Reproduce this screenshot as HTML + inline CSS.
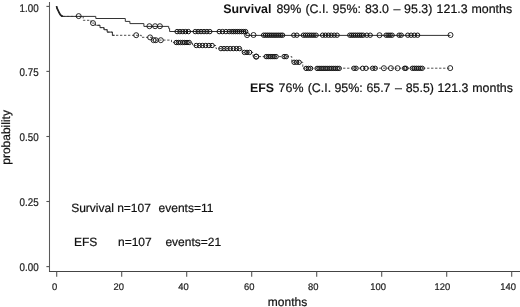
<!DOCTYPE html>
<html><head><meta charset="utf-8"><style>
html,body{margin:0;padding:0;background:#fff;}
svg{display:block;will-change:transform;text-rendering:geometricPrecision;font-family:"Liberation Sans",sans-serif;}
</style></head><body>
<svg width="520" height="307" viewBox="0 0 520 307">
<rect width="520" height="307" fill="#fff"/>
<g stroke="#555" stroke-width="1.1" fill="none">
<line x1="49.5" y1="1.9" x2="49.5" y2="272" stroke="#5a5a5a" stroke-width="1.05"/>
<line x1="49" y1="271.5" x2="520" y2="271.5" stroke="#444" stroke-width="1.05"/>
<line x1="46.4" y1="266.6" x2="49.6" y2="266.6"/><line x1="46.4" y1="201.5" x2="49.6" y2="201.5"/><line x1="46.4" y1="136.5" x2="49.6" y2="136.5"/><line x1="46.4" y1="71.4" x2="49.6" y2="71.4"/><line x1="46.4" y1="6.4" x2="49.6" y2="6.4"/>
<line x1="56.7" y1="271.5" x2="56.7" y2="276.8"/><line x1="121.7" y1="271.5" x2="121.7" y2="276.8"/><line x1="186.7" y1="271.5" x2="186.7" y2="276.8"/><line x1="251.7" y1="271.5" x2="251.7" y2="276.8"/><line x1="316.7" y1="271.5" x2="316.7" y2="276.8"/><line x1="381.7" y1="271.5" x2="381.7" y2="276.8"/><line x1="446.7" y1="271.5" x2="446.7" y2="276.8"/><line x1="511.7" y1="271.5" x2="511.7" y2="276.8"/>
</g>
<g fill="#222" stroke="#222" stroke-width="0.2" font-size="9.8" text-anchor="end"><text transform="translate(38.6,271.00) scale(1,1.15)">0.00</text><text transform="translate(38.6,205.70) scale(1,1.15)">0.25</text><text transform="translate(38.6,140.85) scale(1,1.15)">0.50</text><text transform="translate(38.6,76.15) scale(1,1.15)">0.75</text><text transform="translate(38.6,11.80) scale(1,1.15)">1.00</text></g>
<g fill="#222" stroke="#222" stroke-width="0.2" font-size="9.4"><text transform="translate(52.1,289.9) scale(1,1.03)">0</text><text transform="translate(113.5,289.9) scale(1,1.03)">20</text><text transform="translate(178.2,289.9) scale(1,1.03)">40</text><text transform="translate(244.1,289.9) scale(1,1.03)">60</text><text transform="translate(308.0,289.9) scale(1,1.03)">80</text><text transform="translate(370.2,289.9) scale(1,1.03)">100</text><text transform="translate(434.6,289.9) scale(1,1.03)">120</text><text transform="translate(500.3,289.9) scale(1,1.03)">140</text></g>
<text x="287.5" y="306" font-size="12" fill="#111" stroke="#111" stroke-width="0.2" text-anchor="middle">months</text>
<text transform="translate(10,137.4) rotate(-90)" font-size="12" fill="#111" stroke="#111" stroke-width="0.2" text-anchor="middle">probability</text>
<path d="M62.9,16.4 H83.2 V20.3 H91 V23.1 H95.5 V25.3 H100 V27.6 H104 V29.7 H107.2 V32.1 H112.4 V35.3 H141.3 V37.3 H151.5 V40.1 H171.5 V42.4 H192.5 V45.5 H216 V48.6 H242 V52.4 H253 V56.6 H291.8 V62.3 H302.8 V68.2 H450" fill="none" stroke="#444" stroke-width="0.95" stroke-dasharray="2.3,1.7"/>
<path d="M96.5,25.3 H100 V27.6 H104 V29.7 H107.2 V32.1 H112.4 V35.3 H114.6" fill="none" stroke="#333" stroke-width="1"/>
<path d="M56.5,6.1 L57.1,8.4 L58.3,10.8 L59.2,12.8 L60.3,14.6 L61.8,16.2 L62.9,16.4 H95.8 V18.5 H125.3 V21.4 H129.9 V23.6 H143.9 V26.4 H168.7 V28.4 H169.6 V31.5 H246 V35.4 H450.5" fill="none" stroke="#333" stroke-width="1"/>
<path d="M56.5,6.1 L57.1,8.4 L58.3,10.8 L59.2,12.8 L60.3,14.6 L61.8,16.1 L63,16.2" fill="none" stroke="#222" stroke-width="1.7"/>
<g fill="none" stroke="#111" stroke-width="0.9">
<circle cx="78.7" cy="16.1" r="2.5"/>
<circle cx="149.4" cy="26.2" r="2.5"/>
<circle cx="155.1" cy="26.2" r="2.5"/>
<circle cx="159.9" cy="26.2" r="2.5"/>
<circle cx="247.1" cy="35.1" r="2.5"/>
<circle cx="253.5" cy="35.0" r="2.5"/>
<circle cx="379.5" cy="35.2" r="2.5"/>
<circle cx="450.5" cy="35.0" r="2.5"/>
<circle cx="93.0" cy="23.1" r="2.5"/>
<circle cx="136.2" cy="35.2" r="2.5"/>
<circle cx="150.1" cy="37.4" r="2.5"/>
<circle cx="153.6" cy="40.2" r="2.5"/>
<circle cx="155.8" cy="40.2" r="2.5"/>
<circle cx="160.8" cy="40.2" r="2.5"/>
<circle cx="256.0" cy="56.6" r="2.5"/>
<circle cx="256.4" cy="56.6" r="2.5"/>
<circle cx="383.9" cy="68.2" r="2.5"/>
<circle cx="390.9" cy="68.2" r="2.5"/>
<circle cx="397.6" cy="68.2" r="2.5"/>
<circle cx="450.2" cy="68.1" r="2.5"/>
</g>
<g fill="none" stroke="#111" stroke-width="1.0">
<circle cx="177.1" cy="31.6" r="2.2"/><circle cx="179.9" cy="31.6" r="2.2"/><circle cx="182.8" cy="31.6" r="2.2"/><circle cx="185.6" cy="31.6" r="2.2"/><circle cx="188.4" cy="31.6" r="2.2"/><circle cx="195.2" cy="31.6" r="2.2"/><circle cx="198.1" cy="31.6" r="2.2"/><circle cx="201.0" cy="31.6" r="2.2"/><circle cx="204.0" cy="31.6" r="2.2"/><circle cx="206.9" cy="31.6" r="2.2"/><circle cx="209.8" cy="31.6" r="2.2"/><circle cx="219.2" cy="31.6" r="2.2"/><circle cx="222.5" cy="31.6" r="2.2"/><circle cx="225.9" cy="31.6" r="2.2"/><circle cx="229.2" cy="31.6" r="2.2"/><circle cx="231.8" cy="31.6" r="2.2"/><circle cx="233.7" cy="31.6" r="2.2"/><circle cx="235.7" cy="31.6" r="2.2"/><circle cx="237.7" cy="31.6" r="2.2"/><circle cx="239.6" cy="31.6" r="2.2"/><circle cx="241.6" cy="31.6" r="2.2"/><circle cx="243.6" cy="31.6" r="2.2"/><circle cx="245.6" cy="31.6" r="2.2"/><circle cx="263.6" cy="35.2" r="2.2"/><circle cx="265.5" cy="35.2" r="2.2"/><circle cx="267.4" cy="35.2" r="2.2"/><circle cx="269.3" cy="35.2" r="2.2"/><circle cx="271.2" cy="35.2" r="2.2"/><circle cx="273.1" cy="35.2" r="2.2"/><circle cx="275.0" cy="35.2" r="2.2"/><circle cx="276.9" cy="35.2" r="2.2"/><circle cx="278.8" cy="35.2" r="2.2"/><circle cx="280.8" cy="35.2" r="2.2"/><circle cx="282.6" cy="35.2" r="2.2"/><circle cx="293.8" cy="35.2" r="2.2"/><circle cx="296.9" cy="35.2" r="2.2"/><circle cx="303.4" cy="35.2" r="2.2"/><circle cx="305.5" cy="35.2" r="2.2"/><circle cx="307.6" cy="35.2" r="2.2"/><circle cx="309.7" cy="35.2" r="2.2"/><circle cx="311.8" cy="35.2" r="2.2"/><circle cx="313.9" cy="35.2" r="2.2"/><circle cx="316.1" cy="35.2" r="2.2"/><circle cx="322.6" cy="35.2" r="2.2"/><circle cx="325.4" cy="35.2" r="2.2"/><circle cx="328.4" cy="35.2" r="2.2"/><circle cx="331.2" cy="35.2" r="2.2"/><circle cx="334.2" cy="35.2" r="2.2"/><circle cx="337.1" cy="35.2" r="2.2"/><circle cx="349.8" cy="35.2" r="2.2"/><circle cx="351.7" cy="35.2" r="2.2"/><circle cx="353.6" cy="35.2" r="2.2"/><circle cx="355.5" cy="35.2" r="2.2"/><circle cx="357.5" cy="35.2" r="2.2"/><circle cx="359.4" cy="35.2" r="2.2"/><circle cx="361.3" cy="35.2" r="2.2"/><circle cx="363.2" cy="35.2" r="2.2"/><circle cx="366.8" cy="35.2" r="2.2"/><circle cx="370.2" cy="35.2" r="2.2"/><circle cx="386.1" cy="35.2" r="2.2"/><circle cx="388.1" cy="35.2" r="2.2"/><circle cx="390.1" cy="35.2" r="2.2"/><circle cx="392.1" cy="35.2" r="2.2"/><circle cx="399.1" cy="35.2" r="2.2"/><circle cx="401.2" cy="35.2" r="2.2"/><circle cx="407.8" cy="35.2" r="2.2"/><circle cx="411.1" cy="35.2" r="2.2"/><circle cx="414.3" cy="35.2" r="2.2"/><circle cx="417.6" cy="35.2" r="2.2"/><circle cx="176.2" cy="42.5" r="2.2"/><circle cx="178.3" cy="42.5" r="2.2"/><circle cx="180.5" cy="42.5" r="2.2"/><circle cx="182.7" cy="42.5" r="2.2"/><circle cx="184.8" cy="42.5" r="2.2"/><circle cx="187.0" cy="42.5" r="2.2"/><circle cx="189.2" cy="42.5" r="2.2"/><circle cx="196.2" cy="45.5" r="2.2"/><circle cx="199.3" cy="45.5" r="2.2"/><circle cx="202.5" cy="45.5" r="2.2"/><circle cx="205.7" cy="45.5" r="2.2"/><circle cx="208.9" cy="45.5" r="2.2"/><circle cx="212.1" cy="45.5" r="2.2"/><circle cx="220.9" cy="48.6" r="2.2"/><circle cx="224.0" cy="48.6" r="2.2"/><circle cx="227.1" cy="48.6" r="2.2"/><circle cx="230.2" cy="48.6" r="2.2"/><circle cx="233.3" cy="48.6" r="2.2"/><circle cx="236.4" cy="48.6" r="2.2"/><circle cx="239.4" cy="48.6" r="2.2"/><circle cx="244.4" cy="52.4" r="2.2"/><circle cx="247.0" cy="52.4" r="2.2"/><circle cx="249.6" cy="52.4" r="2.2"/><circle cx="266.2" cy="56.6" r="2.2"/><circle cx="268.2" cy="56.6" r="2.2"/><circle cx="270.2" cy="56.6" r="2.2"/><circle cx="272.1" cy="56.6" r="2.2"/><circle cx="274.1" cy="56.6" r="2.2"/><circle cx="276.1" cy="56.6" r="2.2"/><circle cx="284.1" cy="56.6" r="2.2"/><circle cx="286.2" cy="56.6" r="2.2"/><circle cx="294.1" cy="62.3" r="2.2"/><circle cx="296.6" cy="62.3" r="2.2"/><circle cx="299.1" cy="62.3" r="2.2"/><circle cx="306.1" cy="68.4" r="2.2"/><circle cx="308.4" cy="68.4" r="2.2"/><circle cx="310.6" cy="68.4" r="2.2"/><circle cx="317.1" cy="68.4" r="2.2"/><circle cx="319.1" cy="68.4" r="2.2"/><circle cx="321.1" cy="68.4" r="2.2"/><circle cx="323.1" cy="68.4" r="2.2"/><circle cx="325.1" cy="68.4" r="2.2"/><circle cx="327.1" cy="68.4" r="2.2"/><circle cx="329.2" cy="68.4" r="2.2"/><circle cx="331.2" cy="68.4" r="2.2"/><circle cx="333.2" cy="68.4" r="2.2"/><circle cx="335.2" cy="68.4" r="2.2"/><circle cx="337.2" cy="68.4" r="2.2"/><circle cx="339.2" cy="68.4" r="2.2"/><circle cx="353.9" cy="68.3" r="2.2"/><circle cx="356.1" cy="68.3" r="2.2"/><circle cx="362.6" cy="68.3" r="2.2"/><circle cx="366.1" cy="68.3" r="2.2"/><circle cx="372.6" cy="68.3" r="2.2"/><circle cx="375.2" cy="68.3" r="2.2"/><circle cx="404.6" cy="68.3" r="2.2"/><circle cx="405.9" cy="68.3" r="2.2"/><circle cx="412.4" cy="68.3" r="2.2"/><circle cx="414.3" cy="68.3" r="2.2"/><circle cx="416.3" cy="68.3" r="2.2"/><circle cx="418.3" cy="68.3" r="2.2"/><circle cx="420.3" cy="68.3" r="2.2"/><circle cx="422.2" cy="68.3" r="2.2"/>
</g>
<g font-size="12.4" fill="#111" stroke="#111" stroke-width="0.2"><text x="223.2" y="12.7" font-weight="bold" stroke="none">Survival</text>
<text x="276.4" y="12.7">89%</text>
<text x="305.4" y="12.7">(C.I.</text>
<text x="332.6" y="12.7">95%:</text>
<text x="364.9" y="12.7">83.0</text>
<text x="393.4" y="12.7">&#8211;</text>
<text x="404.1" y="12.7">95.3)</text>
<text x="436.6" y="12.7">121.3</text>
<text x="471.5" y="12.7">months</text>
<text x="249.9" y="91.7" font-weight="bold" stroke="none">EFS</text>
<text x="278.6" y="91.7">76%</text>
<text x="307.7" y="91.7">(C.I.</text>
<text x="334.4" y="91.7">95%:</text>
<text x="366.4" y="91.7">65.7</text>
<text x="395.0" y="91.7">&#8211;</text>
<text x="405.7" y="91.7">85.5)</text>
<text x="437.4" y="91.7">121.3</text>
<text x="472.3" y="91.7">months</text></g>
<g font-size="12" fill="#111" stroke="#111" stroke-width="0.2">
<text x="71.2" y="211.6">Survival</text>
<text x="117.2" y="211.6">n=107</text>
<text x="158.6" y="211.6">events=11</text>
<text x="74.0" y="246.3">EFS</text>
<text x="118.0" y="246.3">n=107</text>
<text x="165.4" y="246.3">events=21</text>
</g>
</svg>
</body></html>
